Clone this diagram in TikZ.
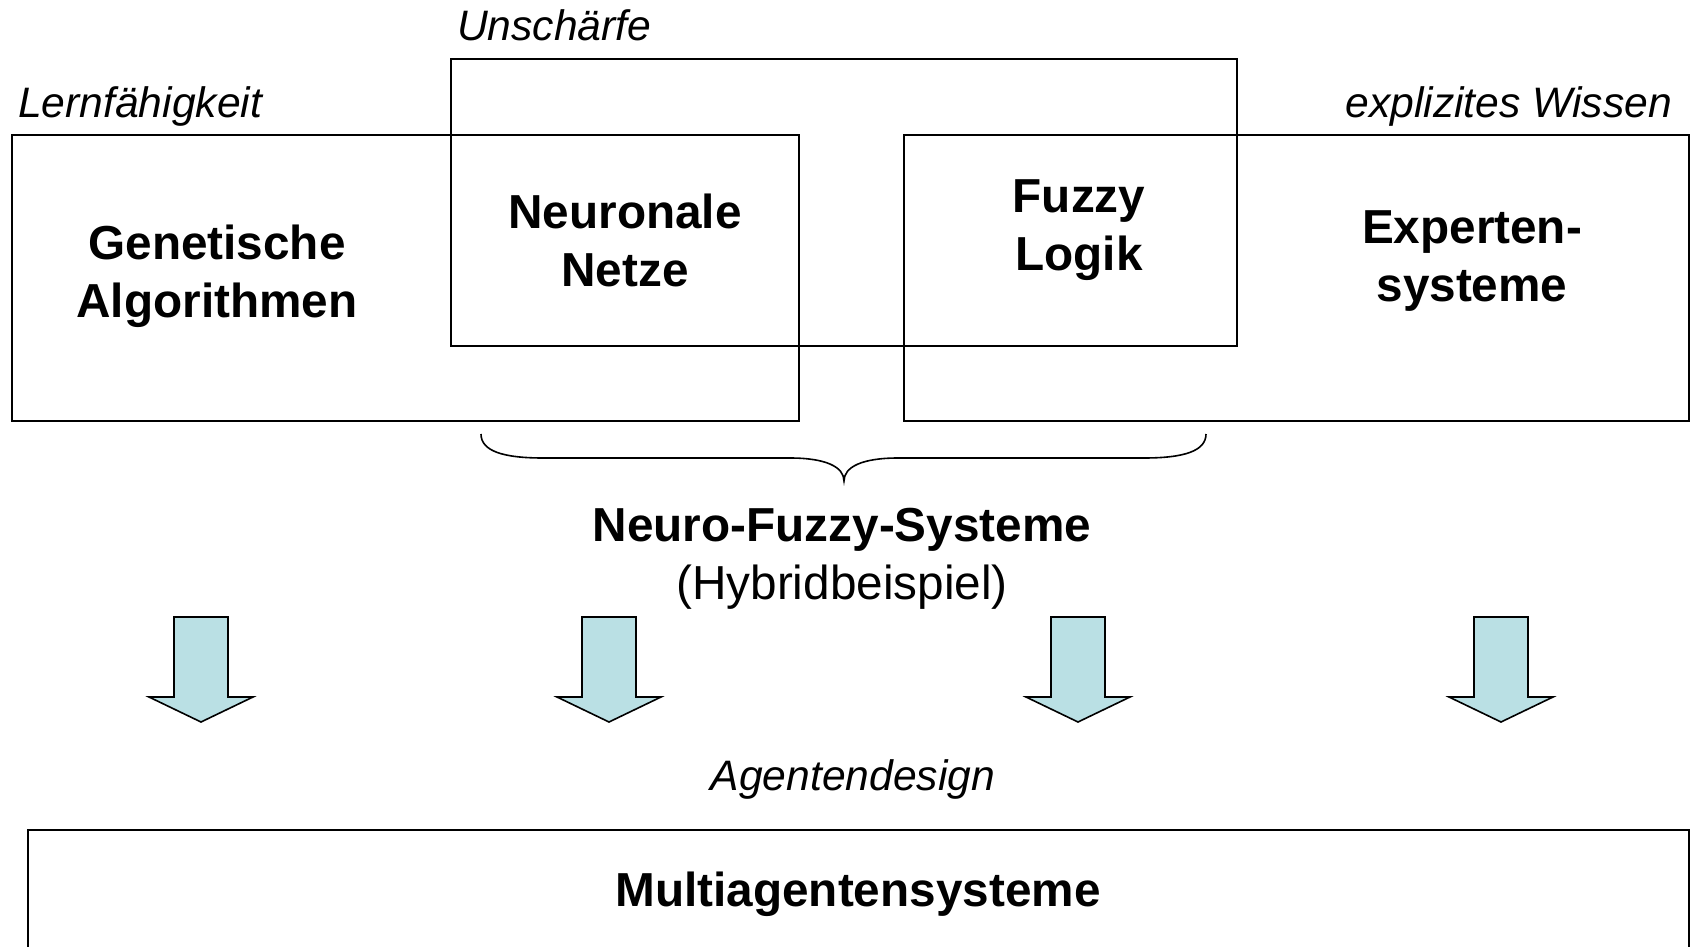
\documentclass[tikz,border=0pt]{standalone}
\usepackage{fontspec}
\setmainfont{Liberation Sans}
\definecolor{arrowfill}{RGB}{186,224,228}
\begin{document}
\begin{tikzpicture}[x=1pt,y=-1pt,
  frame/.style={draw=black, line width=2pt, inner sep=0pt, anchor=north west},
  title/.style={font=\fontsize{47.7}{58}\selectfont\bfseries, align=center, inner sep=0pt},
  note/.style={font=\fontsize{42.6}{50}\selectfont\itshape, inner sep=0pt, anchor=base},
  blockarrow/.style={draw=black, line width=1.6pt, fill=arrowfill, line join=miter},
  bracepath/.style={draw=black, line width=1.6pt}]
\useasboundingbox (0,0) rectangle (1690,947);
\clip (0,0) rectangle (1690,947);

% three overlapping fields
\node[frame, minimum width=787pt, minimum height=286pt] (lern) at (11,134) {};
\node[frame, minimum width=786pt, minimum height=287pt] (unsch) at (450,58) {};
\node[frame, minimum width=785pt, minimum height=286pt] (wissen) at (903,134) {};

% field captions
\node[note, anchor=base west] (lLern) at (18,118) {Lernfähigkeit};
\node[note, anchor=base west] (lUnsch) at (457,41) {Unschärfe};
\node[note, anchor=base east] (lWissen) at (1672,118) {explizites Wissen};

% methods
\node[title, anchor=north] (ga) at (217,225) {Genetische\\Algorithmen};
\node[title, anchor=north] (nn) at (625,194) {Neuronale\\Netze};
\node[title, anchor=north] (fl) at (1079,179) {Fuzzy\\Logik};
\node[title, anchor=north] (xps) at (1472,210) {Experten-\\systeme};

% brace over the hybrid part
\coordinate (bl) at (481,434);
\coordinate (bm) at (844,481);
\coordinate (br) at (1206,434);
\draw[bracepath] (bl) .. controls (481,451) and (503,458) .. (543,458)
  -- (790,458) .. controls (826,458) and (844,467) .. (bm)
  .. controls (844,467) and (862,458) .. (898,458)
  -- (1144,458) .. controls (1184,458) and (1206,451) .. (br);

\node[title, anchor=north] (nfs) at (842,508)
  {Neuro-Fuzzy-Systeme\\\mdseries(Hybridbeispiel)};

% block arrows towards agent design
\foreach \cx/\nm in {201/a1, 609/a2, 1078/a3, 1501/a4}{
  \draw[blockarrow] (\cx-27,617) -- (\cx+27,617) -- (\cx+27,697)
    -- (\cx+52,697) -- (\cx,722) -- (\cx-52,697) -- (\cx-27,697) -- cycle;
}

\node[note] (agd) at (853,790) {Agentendesign};

% multi-agent system
\node[frame, minimum width=1661pt, minimum height=300pt] (mas) at (27,829) {};
\node[title, anchor=base] (masl) at (858,906) {Multiagentensysteme};
\end{tikzpicture}
\end{document}
